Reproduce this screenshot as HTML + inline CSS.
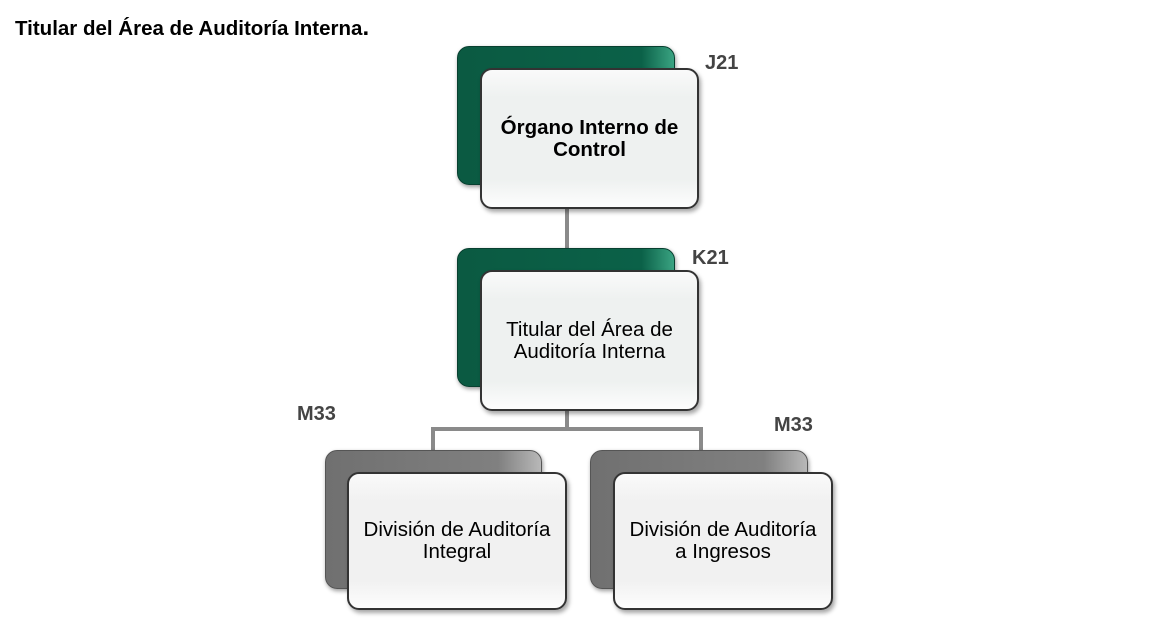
<!DOCTYPE html>
<html><head><meta charset="utf-8"><style>
body{margin:0;width:1173px;height:627px;background:#fff;position:relative;overflow:hidden;font-family:"Liberation Sans",Arial,sans-serif}
.t{position:absolute;left:15px;top:14px;font-weight:bold;font-size:20.5px;color:#000}
.lbl{position:absolute;font-weight:bold;font-size:20px;color:#444}
.back{position:absolute;border-radius:12px;box-shadow:1px 2px 4px rgba(0,0,0,.4)}
.g{background:linear-gradient(90deg,#0b5a42,#0b6148 85%,#3aa382);border:1px solid #084030}
.s{background:linear-gradient(90deg,#707070,#808080 80%,#b8b8b8);border:1px solid #555}
.front{position:absolute;border-radius:12px;border:2px solid #333;background:linear-gradient(180deg,#fafafa,#eef1f0 20%,#eef1f0 80%,#fdfdfd);box-shadow:2px 3px 4px rgba(0,0,0,.35);display:flex;align-items:center;justify-content:center;text-align:center;font-size:20.5px;line-height:22px;color:#000;box-sizing:border-box}
.front.w{background:linear-gradient(180deg,#fafafa,#f1f1f1 20%,#f1f1f1 80%,#fdfdfd)}
.ln{position:absolute;background:#8a8a8a}
</style></head><body>
<div class="t">Titular del Área de Auditoría Interna<span style="font-size:24px">.</span></div>

<div class="ln" style="left:565px;top:205px;width:4px;height:70px"></div>
<div class="ln" style="left:565px;top:405px;width:4px;height:26px"></div>
<div class="ln" style="left:431px;top:427px;width:272px;height:4px"></div>
<div class="ln" style="left:431px;top:427px;width:4px;height:28px"></div>
<div class="ln" style="left:699px;top:427px;width:4px;height:28px"></div>

<div class="back g" style="left:457px;top:46px;width:216px;height:137px"></div>
<div class="front" style="left:480px;top:68px;width:219px;height:141px;font-weight:bold">Órgano Interno de<br>Control</div>
<div class="lbl" style="left:705px;top:52px">J21</div>

<div class="back g" style="left:457px;top:248px;width:216px;height:137px"></div>
<div class="front" style="left:480px;top:270px;width:219px;height:141px">Titular del Área de<br>Auditoría Interna</div>
<div class="lbl" style="left:692px;top:247px">K21</div>

<div class="back s" style="left:325px;top:450px;width:215px;height:137px"></div>
<div class="front w" style="left:347px;top:472px;width:220px;height:138px">División de Auditoría<br>Integral</div>
<div class="lbl" style="left:297px;top:403px">M33</div>

<div class="back s" style="left:590px;top:450px;width:216px;height:137px"></div>
<div class="front w" style="left:613px;top:472px;width:220px;height:138px">División de Auditoría<br>a Ingresos</div>
<div class="lbl" style="left:774px;top:414px">M33</div>
</body></html>
